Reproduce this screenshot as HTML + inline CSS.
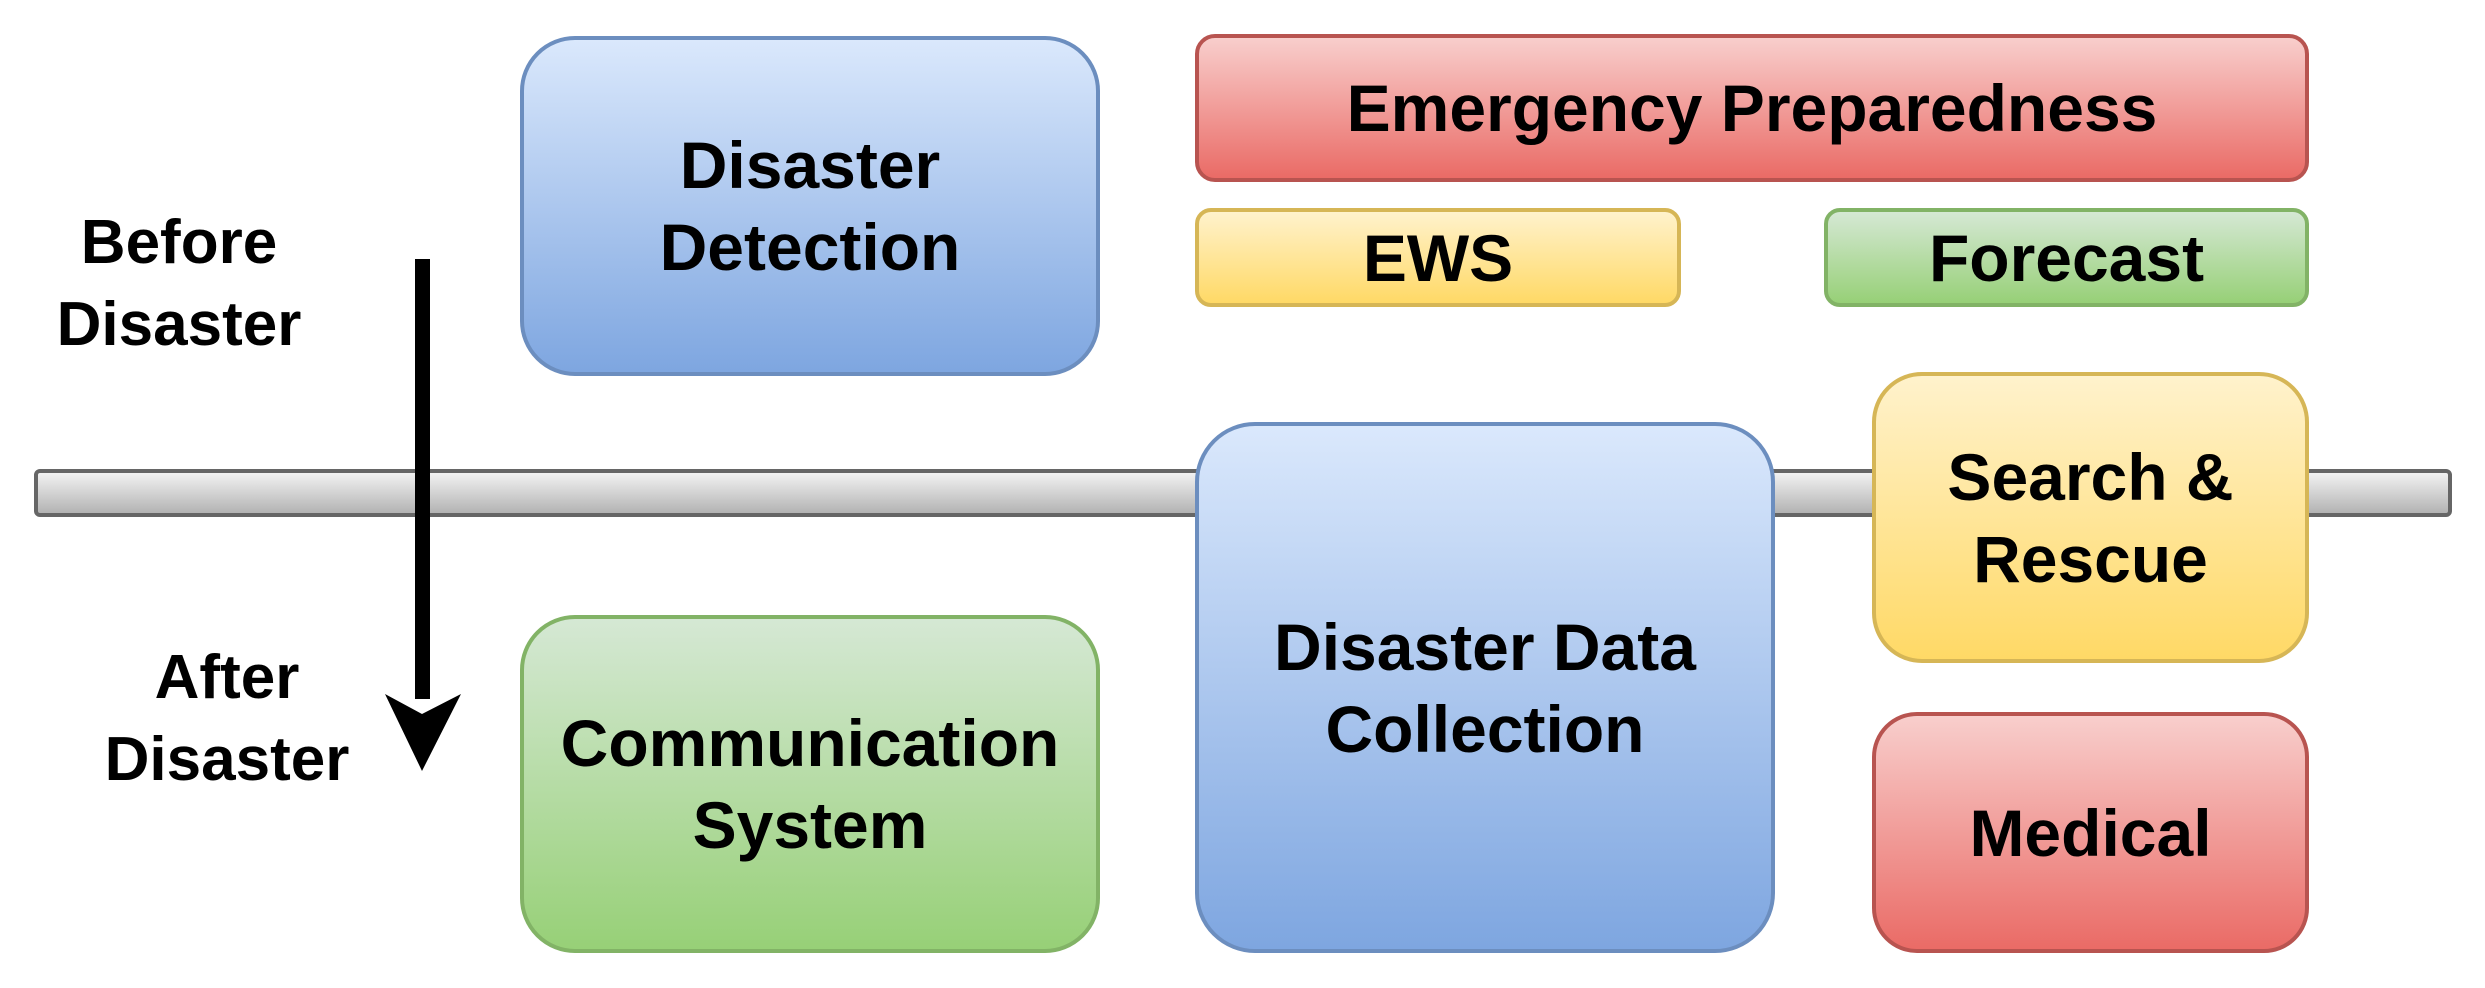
<!DOCTYPE html>
<html><head><meta charset="utf-8"><style>
body{margin:0;width:2485px;height:988px;background:#fff;position:relative;overflow:hidden;font-family:"Liberation Sans",Arial,sans-serif;font-weight:bold;}
.b{position:absolute;box-sizing:border-box;border:4px solid;display:flex;align-items:center;justify-content:center;text-align:center;font-size:66px;line-height:82px;color:#000;}
.blue{background:linear-gradient(#dae8fc,#7ea6e0);border-color:#6c8ebf;}
.red{background:linear-gradient(#f8cecc,#ea6b66);border-color:#b85450;}
.yel{background:linear-gradient(#fff2cc,#ffd966);border-color:#d6b656;}
.grn{background:linear-gradient(#d5e8d4,#97d077);border-color:#82b366;}
.lbl{position:absolute;font-size:62px;line-height:82px;text-align:center;width:320px;}
</style></head><body>
<div style="position:absolute;left:34px;top:469px;width:2418px;height:48px;box-sizing:border-box;border:4px solid #666;border-radius:6px;background:linear-gradient(#f2f2f2,#b3b3b3);"></div>
<div class="b blue" style="left:520px;top:36px;width:580px;height:340px;border-radius:55px;">Disaster<br>Detection</div>
<div class="b red" style="left:1195px;top:34px;width:1114px;height:148px;border-radius:20px;">Emergency Preparedness</div>
<div class="b yel" style="left:1195px;top:208px;width:486px;height:99px;border-radius:16px;">EWS</div>
<div class="b grn" style="left:1824px;top:208px;width:485px;height:99px;border-radius:16px;">Forecast</div>
<div class="b blue" style="left:1195px;top:422px;width:580px;height:531px;border-radius:60px;">Disaster Data<br>Collection</div>
<div class="b yel" style="left:1872px;top:372px;width:437px;height:291px;border-radius:50px;">Search &amp;<br>Rescue</div>
<div class="b red" style="left:1872px;top:712px;width:437px;height:241px;border-radius:45px;">Medical</div>
<div class="b grn" style="left:520px;top:615px;width:580px;height:338px;border-radius:55px;">Communication<br>System</div>
<div class="lbl" style="left:19px;top:202px;">Before<br>Disaster</div>
<div class="lbl" style="left:67px;top:637px;">After<br>Disaster</div>
<svg style="position:absolute;left:0;top:0" width="2485" height="988">
<rect x="415" y="259" width="15" height="440" fill="#000"/>
<polygon points="385,694 422,714 461,694 422,771" fill="#000"/>
</svg>
</body></html>
